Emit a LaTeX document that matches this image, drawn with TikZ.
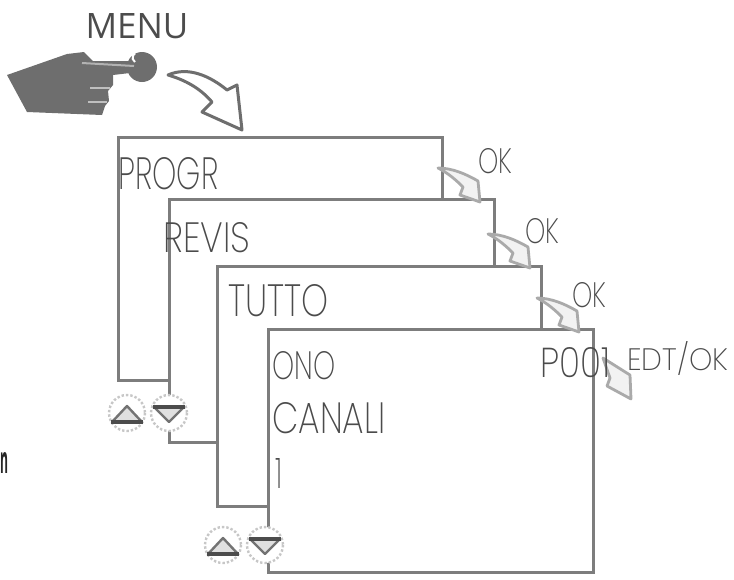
\documentclass[tikz,border=0pt]{standalone}
\usepackage{fontspec}
\usepackage{graphicx}
\newfontfamily\menufont{Open Sans}
\newfontfamily\lcdfont{Poppins ExtraLight}
\usetikzlibrary{positioning}
\definecolor{framegray}{RGB}{125,125,125}
\definecolor{handgray}{RGB}{110,110,110}
\definecolor{lcdgray}{RGB}{75,75,75}
\definecolor{arrowgray}{RGB}{170,170,170}
\newcommand{\lcdtext}[3]{\resizebox{#1pt}{#2pt}{\lcdfont #3}}

\begin{document}
\begin{tikzpicture}[
    x=0.5pt, y=-0.5pt,
    screen/.style={draw=framegray, line width=1.5pt, fill=white},
    lcd/.style={anchor=west, inner sep=0pt, text=lcdgray},
    btnring/.style={draw=black!22, line width=1.2pt, densely dotted, fill=white},
    btnup/.style={draw=black!55, line width=1.2pt, fill=black!12, line join=round},
    btnbar/.style={draw=black!70, line width=1.6pt},
    pics/okarrow/.style={code={
        \draw[arrowgray, line width=1.4pt, fill=black!5, line join=round] (0,0) .. controls (14,0) and (28,6) .. (40,13)
            -- (42,34) -- (22,27) -- (25,19) .. controls (18,12) and (10,5) .. cycle;
    }}
]
    \useasboundingbox (0,0) rectangle (734,579);

    % screens, back to front
    \draw[screen] (118,137) rectangle (442,380);
    \draw[screen] (169,199) rectangle (494,442);
    \draw[screen] (217,266) rectangle (541,506);
    \draw[screen] (268,329) rectangle (593,572);

    % hand on the key
    \fill[handgray, line join=round] (7,75) -- (67,54) -- (84,52) -- (93,61) -- (130,61) -- (130,73)
        -- (113,75) -- (113,85) -- (108,91) -- (109,101) -- (105,106) -- (102,115) -- (27,112) -- cycle;
    \fill[handgray] (142,67) circle (15);
    \draw[black!30, line width=1pt] (82,63) -- (134,66);
    \draw[white, line width=1pt] (135,62) arc (120:240:5);
    \draw[black!25, line width=1pt] (90,88) -- (110,88);
    \draw[black!25, line width=1pt] (88,102) -- (107,102);

    % curved arrow from the key to the first screen
    \draw[handgray, line width=1.5pt, fill=white, line join=round] (168,75) .. controls (188,66) and (210,76) .. (227,90)
        -- (237,85) -- (242,130) -- (202,112) -- (212,102) .. controls (200,88) and (185,80) .. cycle;

    \node[anchor=center, inner sep=0pt, text=black!70, font=\fontsize{17.5}{20}\menufont] (menu) at (137,26) {MENU};

    % arrows between the screens
    \pic at (438,168) {okarrow};
    \pic at (488,234) {okarrow};
    \pic at (537,298) {okarrow};
    \draw[arrowgray, line width=1.4pt, fill=black!5, line join=round] (603,358) -- (630,375) -- (631,399)
        -- (607,386) -- (610,378) -- cycle;

    % display texts
    \node[lcd] (progr) at (118,174) {\lcdtext{50}{16}{PROGR}};
    \node[lcd] (revis) at (163,238) {\lcdtext{43.5}{15}{REVIS}};
    \node[lcd] (tutto) at (228,301) {\lcdtext{50}{16}{TUTTO}};
    \node[lcd] (ono) at (272,366) {\lcdtext{31.5}{14}{ONO}};
    \node[lcd] (canali) at (272,418) {\lcdtext{56.5}{15.5}{CANALI}};
    \node[lcd] (one) at (275,473) {\lcdtext{3.5}{15}{1}};
    \node[lcd] (pcode) at (540,363) {\lcdtext{35}{15}{P001}};
    \node[lcd] (okA) at (478,161) {\lcdtext{17}{12.5}{OK}};
    \node[lcd] (okB) at (525,231) {\lcdtext{17}{12.5}{OK}};
    \node[lcd] (okC) at (572,295) {\lcdtext{17}{12.5}{OK}};
    \node[lcd] (edit) at (627,358) {\lcdtext{50.5}{14.5}{EDT/OK}};

    % key pairs
    \foreach \bx/\by in {127/413, 223/545} {
        \draw[btnring] (\bx,\by) circle (18);
        \draw[btnup] (\bx-15,\by+9) -- (\bx+15,\by+9) -- (\bx,\by-7) -- cycle;
        \draw[btnbar] (\bx-16,\by+9) -- (\bx+16,\by+9);
        \draw[btnring] (\bx+42,\by) circle (18);
        \draw[btnup] (\bx+27,\by-6) -- (\bx+57,\by-6) -- (\bx+42,\by+9) -- cycle;
        \draw[btnbar] (\bx+26,\by-6) -- (\bx+58,\by-6);
    }

    \node[anchor=west, inner sep=0pt, text=black!85] (cutoff) at (0,463) {\resizebox{4pt}{10.5pt}{\menufont\bfseries n}};
\end{tikzpicture}
\end{document}
